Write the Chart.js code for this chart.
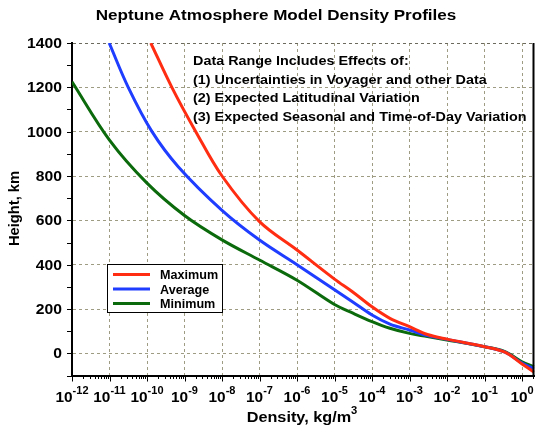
<!DOCTYPE html>
<html lang="en">
<head>
<meta charset="UTF-8">
<title>Neptune Atmosphere Model Density Profiles</title>
<script src="https://cdn.jsdelivr.net/npm/chart.js@4.4.1/dist/chart.umd.min.js"></script>
<style>
  body { margin: 0; background: #fff; }
  #wrap { width: 535px; height: 432px; }
</style>
</head>
<body>
<div id="wrap"><canvas id="chart" width="535" height="432"></canvas></div>
<script>
// values (density kg/m3, height km)
var maxDensity = [1.26e-10, 4.6e-10, 2.0e-9, 1e-8, 1e-7, 1e-6, 1e-5, 3e-5, 1e-4, 3e-4, 1e-3, 3e-3, 1e-2, 1e-1, 0.35, 1, 2.1];
var maxHeight  = [1400, 1200, 1000, 800, 594, 466, 335, 278, 210, 158, 120, 85, 64, 30, 5, -48, -85];

var avgDensity = [9.8e-12, 3.16e-11, 1.36e-10, 6.8e-10, 1e-8, 1e-7, 1e-6, 1e-5, 3e-5, 1e-4, 3e-4, 1e-3, 3e-3, 1e-2, 1e-1, 0.35, 1, 2.1];
var avgHeight  = [1400, 1200, 1000, 842, 645, 511, 400, 287, 233, 173, 132, 105, 80, 63, 30, 5, -44, -70];

var minDensity = [1e-12, 1e-11, 1e-10, 1e-9, 1e-8, 1e-7, 1e-6, 1e-5, 3e-5, 1e-4, 3e-4, 1e-3, 3e-3, 1e-2, 1e-1, 0.35, 1, 2.1];
var minHeight  = [1225, 962, 768, 622, 512, 421, 330, 220, 182, 143, 113, 90, 76, 60, 30, 8, -38, -60];

var seriesNames = ["Maximum", "Average", "Minimum"];
var seriesColors = ["#ff2e12", "#1f3dff", "#0b6a0b"];

var xExponents = [-12, -11, -10, -9, -8, -7, -6, -5, -4, -3, -2, -1, 0];
var yTickValues = [0, 200, 400, 600, 800, 1000, 1200, 1400];

var chartTitle = "Neptune Atmosphere Model Density Profiles";
var xTitle = "Density, kg/m";
var yTitle = "Height, km";
var noteLines = [
  "Data Range Includes Effects of:",
  "(1) Uncertainties in Voyager and other Data",
  "(2) Expected Latitudinal Variation",
  "(3) Expected Seasonal and Time-of-Day Variation"
];

function pairs(xs, ys) {
  return xs.map(function (x, i) { return { x: x, y: ys[i] }; });
}

var FONT = '"Liberation Sans", Arial, sans-serif';

// bold text, a bit wider than normal like the original
function txt(ctx, s, x, y, size, sx, align) {
  ctx.save();
  ctx.font = 'bold ' + size + 'px ' + FONT;
  var w = ctx.measureText(s).width * sx;
  var x0 = align === 'center' ? x - w / 2 : (align === 'right' ? x - w : x);
  ctx.translate(x0, y);
  ctx.scale(sx, 1);
  ctx.textAlign = 'left';
  ctx.textBaseline = 'alphabetic';
  ctx.fillStyle = '#000';
  ctx.fillText(s, 0, 0);
  ctx.restore();
  return w;
}

var decor = {
  id: 'decor',
  beforeDraw: function (chart) {
    var ctx = chart.ctx;
    ctx.save();
    ctx.fillStyle = '#fff';
    ctx.fillRect(0, 0, chart.width, chart.height);
    ctx.restore();
  },
  afterDraw: function (chart) {
    var ctx = chart.ctx;
    var xs = chart.scales.x, ys = chart.scales.y;
    var a = chart.chartArea;

    ctx.save();
    ctx.strokeStyle = '#000';
    // right border
    ctx.lineWidth = 2;
    ctx.beginPath();
    ctx.moveTo(a.right - 1, a.top);
    ctx.lineTo(a.right - 1, a.bottom);
    ctx.stroke();

    // x ticks (major + minor)
    ctx.lineWidth = 1;
    ctx.beginPath();
    xExponents.forEach(function (e) {
      for (var m = 1; m < 10; m++) {
        var v = m * Math.pow(10, e);
        if (v > xs.max) break;
        var px = Math.round(xs.getPixelForValue(v)) + 0.5;
        ctx.moveTo(px, a.bottom);
        ctx.lineTo(px, a.bottom + (m === 1 ? 6 : 3.5));
      }
    });
    // y ticks every 100
    for (var h = -100; h <= 1400; h += 100) {
      var py = Math.round(ys.getPixelForValue(h)) + 0.5;
      ctx.moveTo(a.left, py);
      ctx.lineTo(a.left - 5, py);
    }
    ctx.stroke();
    ctx.restore();

    // y tick labels
    yTickValues.forEach(function (v) {
      txt(ctx, String(v), 62, ys.getPixelForValue(v) + 5, 14, 1.12, 'right');
    });

    // x tick labels 10^n
    xExponents.forEach(function (e) {
      var px = xs.getPixelForValue(Math.pow(10, e));
      ctx.font = 'bold 14px ' + FONT;
      var wb = ctx.measureText('10').width * 1.1;
      ctx.font = 'bold 10px ' + FONT;
      var we = ctx.measureText(String(e)).width * 1.1;
      var x0 = px - (wb + we) / 2;
      txt(ctx, '10', x0, 401.5, 14, 1.1, 'left');
      txt(ctx, String(e), x0 + wb, 394, 10, 1.1, 'left');
    });

    // axis titles
    ctx.font = 'bold 14.5px ' + FONT;
    var wt = ctx.measureText(xTitle).width * 1.12;
    ctx.font = 'bold 10px ' + FONT;
    var w3 = ctx.measureText('3').width * 1.12;
    var tx0 = 302 - (wt + w3) / 2;
    txt(ctx, xTitle, tx0, 421.5, 14.5, 1.12, 'left');
    txt(ctx, '3', tx0 + wt, 414, 10, 1.12, 'left');

    ctx.save();
    ctx.translate(19, 208.5);
    ctx.rotate(-Math.PI / 2);
    txt(ctx, yTitle, 0, 0, 14, 1.05, 'center');
    ctx.restore();

    // chart title
    txt(ctx, chartTitle, 276, 19.5, 14, 1.22, 'center');

    // note text
    var nb = [65, 83.5, 102, 120.5];
    noteLines.forEach(function (s, i) {
      txt(ctx, s, 193, nb[i], 12.5, 1.15, 'left');
    });

    // legend box
    ctx.save();
    ctx.fillStyle = '#fff';
    ctx.fillRect(107.5, 264.5, 115, 48);
    ctx.strokeStyle = '#000';
    ctx.lineWidth = 1;
    ctx.strokeRect(107.5, 264.5, 115, 48);
    var ly = [274.5, 289, 303.5];
    seriesNames.forEach(function (n, i) {
      ctx.strokeStyle = seriesColors[i];
      ctx.lineWidth = 3;
      ctx.beginPath();
      ctx.moveTo(113, ly[i]);
      ctx.lineTo(150, ly[i]);
      ctx.stroke();
      txt(ctx, n, 160, ly[i] + 4.5, 12, 1.05, 'left');
    });
    ctx.restore();
  }
};

var datasets = [
  { label: seriesNames[0], data: pairs(maxDensity, maxHeight), borderColor: seriesColors[0] },
  { label: seriesNames[1], data: pairs(avgDensity, avgHeight), borderColor: seriesColors[1] },
  { label: seriesNames[2], data: pairs(minDensity, minHeight), borderColor: seriesColors[2] }
].map(function (d) {
  d.borderWidth = 3;
  d.pointRadius = 0;
  d.fill = false;
  d.tension = 0.35;
  return d;
});

new Chart(document.getElementById('chart'), {
  type: 'line',
  data: { datasets: datasets },
  options: {
    responsive: false,
    animation: false,
    layout: { padding: { left: 72, right: 0.5, top: 43, bottom: 56.5 } },
    plugins: { legend: { display: false }, title: { display: false }, tooltip: { enabled: false } },
    scales: {
      x: {
        type: 'logarithmic',
        min: 1e-12,
        max: 2.15,
        afterBuildTicks: function (scale) {
          scale.ticks = xExponents.map(function (e) { return { value: Math.pow(10, e) }; });
        },
        ticks: { display: false },
        grid: { drawTicks: false, color: '#9f9c84', lineWidth: 1 },
        border: { display: true, color: '#000', width: 2, dash: [3, 3] }
      },
      y: {
        type: 'linear',
        min: -100,
        max: 1400,
        ticks: { display: false, stepSize: 100 },
        grid: {
          drawTicks: false,
          lineWidth: 1,
          color: function (c) {
            var v = c.tick.value;
            if (v === 1400) return '#6b6a5c';
            return (v % 200 === 0) ? '#9f9c84' : 'rgba(0,0,0,0)';
          }
        },
        border: { display: true, color: '#000', width: 2, dash: [3, 3] }
      }
    }
  },
  plugins: [decor]
});
</script>
</body>
</html>
